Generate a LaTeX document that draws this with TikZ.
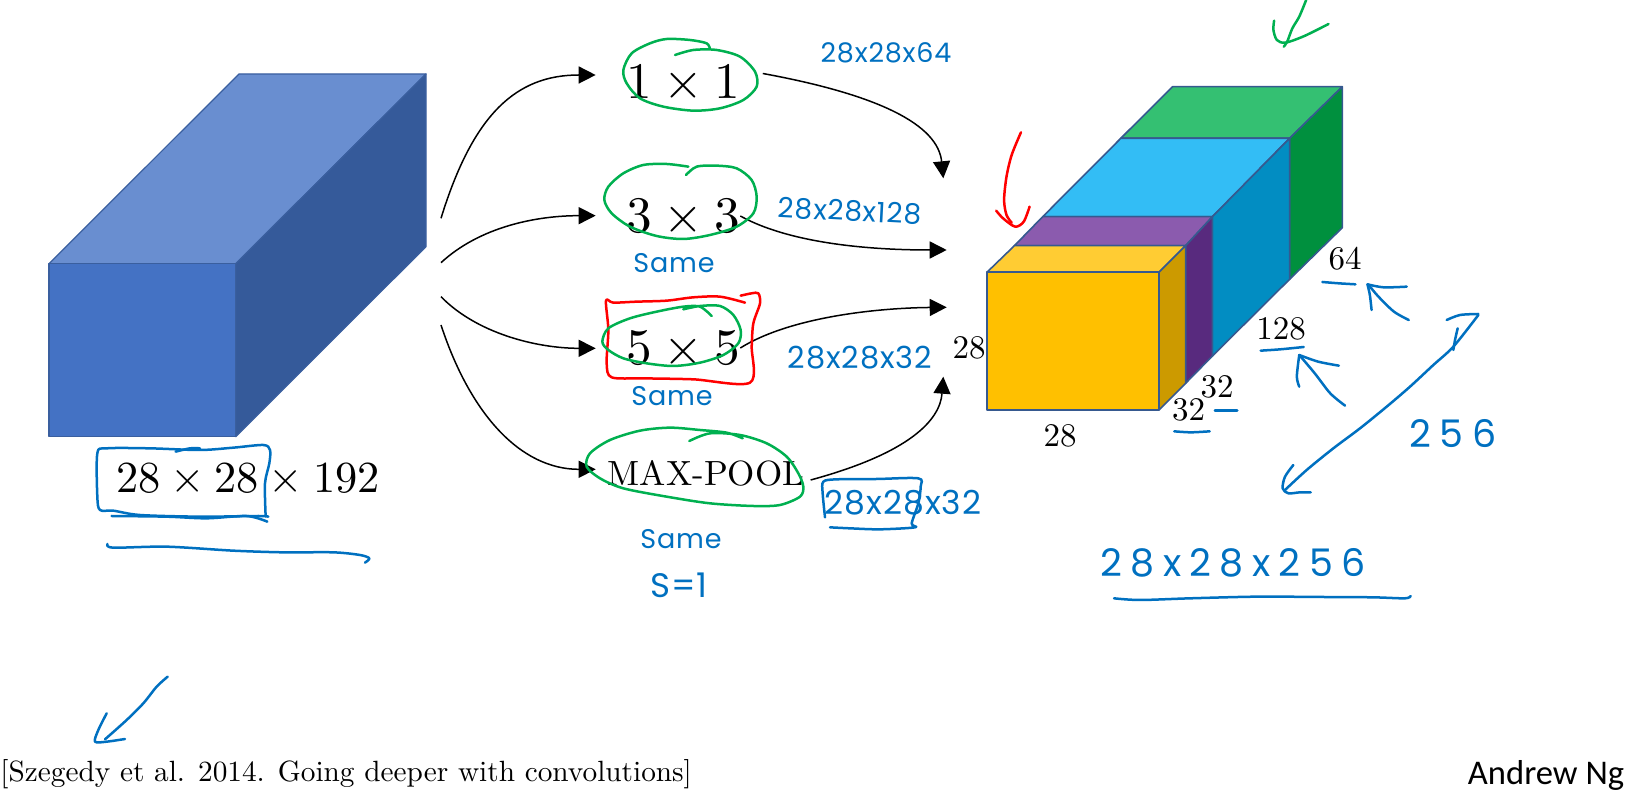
\documentclass[tikz,border=0pt]{standalone}
\usepackage{fontspec}
\setmainfont{lmroman10-regular.otf}
\usetikzlibrary{arrows.meta}
\newfontfamily\handfont[LetterSpace=3]{Poppins}
\newfontfamily\handwide[LetterSpace=22]{Poppins}
\newfontfamily\ngfont{Carlito}
\newcommand{\tm}{\hspace{.222em}×\hspace{.222em}}
\definecolor{inkblue}{HTML}{0070C0}
\definecolor{inkgreen}{HTML}{00B050}
\definecolor{inkred}{HTML}{FF0000}
\definecolor{blockfront}{HTML}{4472C4}
\definecolor{blocktop}{HTML}{698ED0}
\definecolor{blockside}{HTML}{355A9A}
\definecolor{blockedge}{HTML}{3A5F9F}
\definecolor{cubeedge}{HTML}{36598F}
\tikzset{
  ink/.style={line width=1.25pt,line cap=round,line join=round},
  bink/.style={ink,draw=inkblue},
  gink/.style={ink,draw=inkgreen},
  rink/.style={ink,draw=inkred},
  blockface/.style={draw=blockedge,line width=.6pt,line join=round},
  cubeface/.style={draw=cubeedge,line width=.8pt,line join=round},
  conn/.style={draw=black,line width=.75pt,-{Triangle[length=8.5pt,width=8.5pt]}},
  bigop/.style={inner sep=0pt,font=\fontsize{25.6}{30}\selectfont},
  dim/.style={inner sep=0pt,font=\fontsize{16.5}{18}\selectfont},
  handtext/.style={inner sep=0pt,text=inkblue,font=\handfont\fontsize{13.5}{15}\selectfont},
  handbig/.style={inner sep=0pt,text=inkblue,font=\handwide\fontsize{19}{21}\selectfont},
  zA/.style={shift={(560,0)},scale=1/3},
  zB/.style={shift={(560,280)},scale=1/3},
  zC/.style={shift={(960,0)},xscale=.3444,yscale=1/3},
  zD/.style={shift={(1040,240)},scale=1/3},
  zE/.style={shift={(0,420)},scale=1/3},
  zF/.style={shift={(420,50)},scale=1/3},
}
\begin{document}
\begin{tikzpicture}[x=.5pt,y=-.5pt]
\useasboundingbox (0,0) rectangle (1625,795);

% input block
\fill[blockface,fill=blocktop] (49,263.7) -- (239,74) -- (426,74) -- (235.7,263.7) -- cycle;
\fill[blockface,fill=blockside] (235.7,263.7) -- (426,74) -- (426,246.7) -- (235.7,436.7) -- cycle;
\fill[blockface,fill=blockfront] (49,263.7) rectangle (235.7,436.7);

% output volume
\fill[cubeface,fill={rgb,255:red,52;green,192;blue,114}] (1172.5,86.7) -- (1342.3,86.7) -- (1289.6,138.3) -- (1120.8,138.3) -- cycle;
\fill[cubeface,fill={rgb,255:red,0;green,144;blue,62}] (1289.6,138.3) -- (1342.3,86.7) -- (1342.3,227.7) -- (1289.6,279.3) -- cycle;
\fill[cubeface,fill={rgb,255:red,51;green,189;blue,245}] (1120.8,138.3) -- (1289.6,138.3) -- (1212.4,216.7) -- (1042.7,216.7) -- cycle;
\fill[cubeface,fill={rgb,255:red,2;green,141;blue,194}] (1212.4,216.7) -- (1289.6,138.3) -- (1289.6,279.3) -- (1212.4,356) -- cycle;
\fill[cubeface,fill={rgb,255:red,139;green,91;blue,174}] (1042.7,216.7) -- (1212.4,216.7) -- (1185.6,245.7) -- (1014.4,245.7) -- cycle;
\fill[cubeface,fill={rgb,255:red,88;green,42;blue,126}] (1185.6,245.7) -- (1212.4,216.7) -- (1212.4,356) -- (1185.6,383.3) -- cycle;
\fill[cubeface,fill={rgb,255:red,255;green,204;blue,51}] (1014.4,245.7) -- (1185.6,245.7) -- (1159,272.3) -- (986.9,272.3) -- cycle;
\fill[cubeface,fill={rgb,255:red,204;green,154;blue,0}] (1159,272.3) -- (1185.6,245.7) -- (1185.6,383.3) -- (1159,410) -- cycle;
\fill[cubeface,fill={rgb,255:red,255;green,192;blue,0}] (986.9,272.3) rectangle (1159,410);

% printed labels
\node[bigop] (n11) at (683.5,81.5) {1\tm 1};
\node[bigop] (n33) at (683,216) {3\tm 3};
\node[bigop] (n55) at (683,348) {5\tm 5};
\node[inner sep=0pt,font=\fontsize{17.5}{20}\selectfont] (npool) at (706,473) {MAX-POOL};
\node[inner sep=0pt,font=\fontsize{22.2}{25}\selectfont] (nin) at (248,478) {28\tm 28\tm 192};
\node[dim] (dleft) at (969,348) {28};
\node[dim] (dbot) at (1060,436) {28};
\node[dim] (da) at (1188.7,410) {32};
\node[dim] (db) at (1217,387) {32};
\node[dim] (dc) at (1281,329) {128};
\node[dim] (dd) at (1345,259) {64};
\node[anchor=base west,inner sep=0pt,font=\fontsize{14.65}{16}\selectfont] (cite) at (0,781) {[Szegedy et al. 2014. Going deeper with convolutions]};
\node[inner sep=0pt,font=\ngfont\fontsize{17.3}{20}\selectfont] (ng) at (1546,775) {Andrew Ng};

% connectors: input block to branches
\coordinate (s1) at (441,218.3);
\coordinate (s2) at (441,262.7);
\coordinate (s3) at (441,296.7);
\coordinate (s4) at (441,325);
\begin{scope}[zF]
\coordinate (t1) at (527,75);
\coordinate (t2) at (527,497);
\coordinate (t3) at (527,895);
\coordinate (t4) at (527,1258);
\draw[conn] (s1) .. controls (160,190) and (290,75) .. (t1);
\draw[conn] (s2) .. controls (180,530) and (350,497) .. (t2);
\draw[conn] (s3) .. controls (170,850) and (350,895) .. (t3);
\draw[conn] (s4) .. controls (150,1090) and (300,1258) .. (t4);
\end{scope}
% connectors: branches to output volume
\coordinate (u1) at (943.3,178.3);
\coordinate (u2) at (946.7,250);
\coordinate (u3) at (946.7,307.3);
\coordinate (u4) at (943.3,376.7);
\draw[conn] ([shift={(22,-8)}]n11.east) .. controls (880,95) and (938,125) .. (u1);
\draw[conn] (n33.east) .. controls (793,245) and (877,250) .. (u2);
\draw[conn] (n55.east) .. controls (790,317) and (877,308) .. (u3);
\draw[conn] ([shift={(6,7)}]npool.east) .. controls (910,453) and (940,420) .. (u4);

% handwritten labels
\node[handtext] (h1) at (886,53) {28x28x64};
\node[handtext,rotate=-3,font=\handfont\fontsize{14}{15}\selectfont] (h2) at (850,211) {28x28x128};
\node[handtext,font=\handfont\fontsize{15.2}{16}\selectfont] (h3) at (860,358) {28x28x32};
\node[handtext,font=\handfont\fontsize{16.5}{18}\selectfont] (h4) at (903,503) {28x28x32};
\node[handtext] (s1l) at (674,263) {Same};
\node[handtext] (s2l) at (672,396) {Same};
\node[handtext] (s3l) at (681,539) {Same};
\node[handtext,font=\handfont\fontsize{17}{19}\selectfont] (sel) at (679,585) {S=1};
\node[handbig] (h256) at (1453,434) {256};
\node[handbig] (htot) at (1233,563) {28x28x256};

% green ink
\begin{scope}[zA]
\draw[gink] plot[smooth] coordinates {(345,165)(400,150)(470,150)(540,170)(585,215)(590,260)(550,300)(480,325)(400,332)(310,320)(240,295)(200,250)(190,210)(215,160)(270,130)(320,117)(390,120)(440,130)(450,148)};
\draw[gink] plot[smooth] coordinates {(378,525)(410,500)(470,497)(530,505)(575,540)(590,590)(580,640)(530,680)(450,705)(370,717)(290,708)(210,680)(155,640)(133,600)(145,560)(190,520)(250,495)(320,492)(385,500)};
\end{scope}
\begin{scope}[zB]
\draw[rink] plot[smooth] coordinates {(555,68)(480,50)(400,52)(320,62)(230,65)(160,68)(138,62)(145,150)(140,250)(155,292)(250,295)(400,298)(570,308)(575,200)(580,130)(600,70)(595,40)(575,40)(542,47)};
\draw[gink] plot[smooth] coordinates {(370,88)(420,78)(480,78)(520,105)(542,150)(535,190)(490,225)(420,248)(340,258)(260,250)(190,235)(145,210)(127,185)(145,145)(210,115)(290,95)(370,80)(420,80)(455,108)};
\draw[gink] plot[smooth] coordinates {(388,483)(450,460)(540,465)(620,490)(680,530)(715,580)(730,620)(720,650)(660,675)(580,678)(450,670)(320,650)(190,625)(120,595)(80,560)(90,520)(150,480)(240,452)(330,443)(420,450)(500,458)(548,475)};
\draw[bink] plot[smooth] coordinates {(795,712)(788,640)(790,605)(830,598)(950,597)(1075,595)(1082,620)(1075,670)(1055,730)(1065,742)(960,748)(870,745)(810,742)};
\end{scope}
\begin{scope}[zC]
\draw[gink] plot[smooth] coordinates {(1005,0)(985,50)(965,85)(950,125)(940,140)};
\draw[gink] plot[smooth] coordinates {(912,62)(910,90)(920,120)(945,128)(1000,108)(1070,72)};
\draw[rink] plot[smooth] coordinates {(177,397)(150,465)(135,530)(128,600)(135,645)(150,668)};
\draw[rink] plot[smooth] coordinates {(105,632)(125,655)(160,680)(185,665)(202,620)};
\draw[bink] plot[smooth] coordinates {(1052,846)(1100,850)(1148,853)};
\draw[bink] plot[smooth] coordinates {(1303,960)(1260,935)(1215,890)(1185,853)};
\draw[bink] plot[smooth] coordinates {(1195,930)(1190,885)(1183,853)};
\draw[bink] plot[smooth] coordinates {(1183,853)(1230,862)(1297,860)};
\draw[bink] plot[smooth] coordinates {(873,1052)(930,1048)(998,1041)};
\draw[bink] plot[smooth] coordinates {(1118,1217)(1075,1180)(1030,1120)(985,1065)};
\draw[bink] plot[smooth] coordinates {(985,1160)(978,1130)(985,1065)};
\draw[bink] plot[smooth] coordinates {(985,1065)(1040,1085)(1100,1097)};
\draw[bink] (740,1232) -- (805,1232);
\draw[bink] plot[smooth] coordinates {(622,1294)(670,1297)(725,1294)};
\end{scope}
\begin{scope}[zD]
\draw[bink] plot[smooth] coordinates {(735,750)(800,690)(880,625)(960,565)(1040,500)(1110,440)(1180,375)(1240,320)(1315,225)};
\draw[bink] plot[smooth] coordinates {(1220,240)(1260,225)(1315,222)};
\draw[bink] plot[smooth] coordinates {(1253,265)(1245,300)(1240,330)};
\draw[bink] plot[smooth] coordinates {(760,675)(735,710)(728,745)(745,760)(780,757)(812,757)};
\draw[bink] plot[smooth] coordinates {(222,1075)(300,1080)(450,1075)(650,1070)(850,1071)(1000,1072)(1095,1075)(1112,1068)};
\end{scope}
\begin{scope}[zE]
\draw[bink] plot[smooth] coordinates {(805,290)(775,288)(600,290)(420,285)(340,272)(300,270)(292,230)(292,100)(320,85)(450,85)(600,90)(700,83)(790,75)(810,90)(808,130)(795,190)(797,290)};
\draw[bink] plot[smooth] coordinates {(335,288)(500,290)(620,295)(740,288)(802,305)};
\draw[bink] plot[smooth] coordinates {(527,95)(570,85)(600,85)};
\draw[bink] plot[smooth] coordinates {(322,372)(340,383)(500,380)(700,392)(850,397)(1000,397)(1080,405)(1108,415)(1095,428)};
\draw[bink] plot[smooth] coordinates {(503,770)(470,800)(430,850)(380,900)(315,958)};
\draw[bink] plot[smooth] coordinates {(320,880)(295,930)(285,965)(320,965)(375,957)};
\end{scope}
\end{tikzpicture}
\end{document}
